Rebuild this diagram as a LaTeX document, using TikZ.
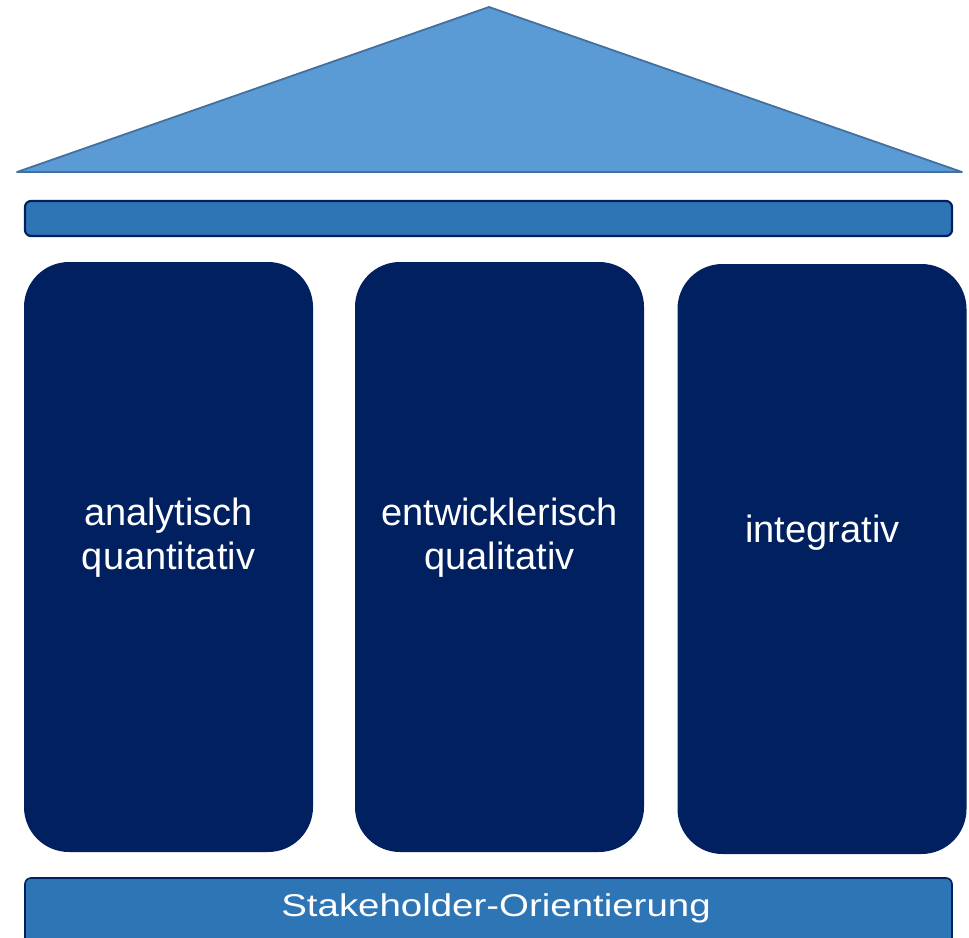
\documentclass[tikz,border=0pt]{standalone}
\usepackage{fontspec}
\setmainfont{Liberation Sans}
\usetikzlibrary{calc}
\definecolor{roof}{RGB}{91,155,213}
\definecolor{roofline}{RGB}{68,112,158}
\definecolor{beam}{RGB}{46,117,182}
\definecolor{navy}{RGB}{0,32,96}
\tikzset{
    pillar/.style = {fill = navy, rounded corners = 45pt, inner sep = 0pt,
        minimum width = 289pt, minimum height = 590pt},
    pillartext/.style = {text = white, align = center,
        font = \fontsize{38}{44}\selectfont},
    plank/.style = {fill = beam, draw = navy, inner sep = 0pt,
        minimum width = 927pt, rounded corners = 6pt},
}

\begin{document}
\begin{tikzpicture}[x = 1pt, y = -1pt]
    \useasboundingbox (0, 0) rectangle (969, 937);
    % roof
    \coordinate (eaveleft) at (17, 172);
    \coordinate (apex) at (489, 7);
    \coordinate (eaveright) at (962, 172);
    \filldraw[roof, draw = roofline, line width = 1.8pt, line join = round]
        (eaveleft) -- (apex) -- (eaveright) -- cycle;
    % beam below the roof
    \node[plank, line width = 2.2pt, minimum height = 35pt] (beam) at (488.5, 218.5) {};
    % pillars
    \node[pillar] (analytic) at (168.5, 557) {};
    \node[pillar] (developing) at (499.5, 557) {};
    \node[pillar] (integrative) at (822, 559) {};
    \node[pillartext] (analytictext) at (168.5, 538) {analytisch\\quantitativ};
    \node[pillartext] (developingtext) at (499.5, 538) {entwicklerisch\\qualitativ};
    \node[pillartext, anchor = base] (integrativetext) at (822.5, 542) {integrativ};
    % base
    \node[plank, line width = 1.6pt, minimum height = 82pt] (base) at (488.5, 919) {};
    \node[text = white, anchor = base, font = \fontsize{31.5}{38}\selectfont]
        (basetext) at (496, 916.5) {\scalebox{1.22}[1]{Stakeholder-Orientierung}};
\end{tikzpicture}
\end{document}
